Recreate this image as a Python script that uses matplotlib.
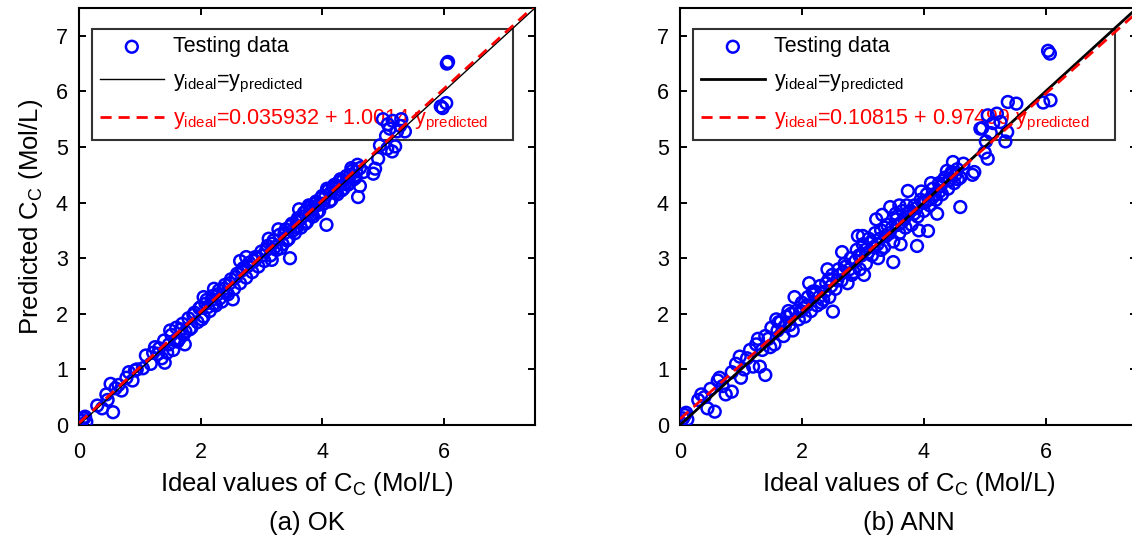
import numpy as np
import matplotlib
matplotlib.use('Agg')
import matplotlib.pyplot as plt

plt.rcParams['font.family'] = ['Liberation Sans', 'DejaVu Sans']
plt.rcParams['mathtext.fontset'] = 'custom'
plt.rcParams['mathtext.rm'] = 'Liberation Sans'
plt.rcParams['mathtext.it'] = 'Liberation Sans:italic'
plt.rcParams['mathtext.default'] = 'regular'

# ---- data ----
ok_ideal = [0.05, 0.08, 0.12, 0.10, 0.30, 0.38, 0.45, 0.52, 0.56, 0.47,
            0.65, 0.70, 0.78, 0.82, 0.88, 0.95, 1.05, 1.10, 1.18, 1.25,
            1.30, 1.36, 1.41, 1.40, 1.48, 1.52, 1.55, 1.60, 1.65, 1.70,
            1.74, 1.75, 1.80, 1.85, 1.90, 1.95, 2.00, 2.05, 2.10, 2.15,
            2.20, 2.25, 2.30, 2.35, 2.40, 2.45, 2.50, 2.53, 2.55, 2.60,
            2.65, 2.70, 2.75, 2.80, 2.85, 2.90, 2.95, 3.00, 3.05, 3.10,
            3.15, 3.17, 3.20, 3.25, 3.30, 3.35, 3.40, 3.45, 3.47, 3.50,
            3.55, 3.60, 3.65, 3.70, 3.75, 3.80, 3.85, 3.90, 3.95, 4.00,
            4.07, 4.10, 4.15, 4.20, 4.25, 4.30, 4.35, 4.40, 4.45, 4.50,
            4.55, 4.59, 4.62, 4.62, 4.68, 4.84, 4.87, 4.92,
            1.50, 1.62, 1.72, 1.82, 1.98, 2.02, 2.12, 2.22, 2.32, 2.42,
            2.05, 2.22, 1.45, 2.65, 2.75, 2.88, 3.12, 3.32, 3.42, 3.28,
            3.62, 3.58, 3.68, 3.72, 3.78, 3.82, 3.88, 3.92, 3.98, 4.02,
            4.08, 4.12, 4.22, 4.28, 4.32, 4.42, 4.52, 4.48, 4.58,
            2.58, 2.68, 2.78, 2.92, 3.02, 3.08, 3.18, 3.22, 3.38, 3.48,
            3.52, 3.58, 3.64, 3.74, 3.84, 3.94, 4.04, 4.14, 4.18, 4.24,
            4.34, 4.38, 4.46, 4.56, 1.22, 1.32, 1.58, 1.68, 1.88, 2.08,
            2.18, 2.28, 2.38, 2.48, 0.92, 0.60,
            5.00, 5.08, 5.16, 5.28, 5.36, 5.23, 5.11, 4.95, 5.07, 5.20, 5.15, 5.30, 5.05,
            6.07, 6.05, 6.04, 5.95, 5.98]
ok_pred = [0.08, 0.12, 0.06, 0.15, 0.35, 0.30, 0.55, 0.74, 0.23, 0.45,
           0.72, 0.62, 0.85, 0.95, 0.80, 1.00, 1.02, 1.25, 1.10, 1.40,
           1.28, 1.20, 1.12, 1.52, 1.45, 1.62, 1.35, 1.75, 1.55, 1.82,
           1.45, 1.68, 1.92, 1.75, 2.02, 1.85, 2.12, 1.95, 2.25, 2.05,
           2.32, 2.15, 2.42, 2.22, 2.52, 2.35, 2.62, 2.26, 2.45, 2.72,
           2.55, 2.82, 2.65, 2.92, 2.75, 3.02, 2.85, 3.12, 2.95, 3.22,
           3.05, 2.97, 3.32, 3.15, 3.42, 3.25, 3.52, 3.35, 3.00, 3.62,
           3.45, 3.72, 3.55, 3.82, 3.65, 3.92, 3.75, 4.02, 3.85, 4.12,
           3.60, 4.22, 4.05, 4.32, 4.15, 4.42, 4.25, 4.48, 4.35, 4.58,
           4.45, 4.10, 4.30, 4.62, 4.55, 4.52, 4.61, 4.79,
           1.70, 1.50, 1.62, 1.72, 2.10, 1.90, 2.12, 2.18, 2.28, 2.38,
           2.30, 2.45, 1.30, 2.95, 3.02, 2.95, 3.35, 3.18, 3.32, 3.52,
           3.88, 3.55, 3.75, 3.62, 3.95, 3.78, 3.98, 3.82, 4.08, 3.98,
           4.25, 4.02, 4.18, 4.38, 4.22, 4.32, 4.42, 4.62, 4.68,
           2.66, 2.78, 2.86, 3.00, 3.05, 3.15, 3.26, 3.20, 3.45, 3.58,
           3.50, 3.66, 3.70, 3.86, 3.88, 3.96, 4.08, 4.18, 4.28, 4.30,
           4.40, 4.34, 4.50, 4.56, 1.30, 1.38, 1.52, 1.72, 1.98, 2.18,
           2.25, 2.35, 2.45, 2.55, 0.98, 0.66,
           5.50, 5.41, 5.47, 5.38, 5.28, 5.28, 5.33, 5.03, 4.97, 5.01, 4.92, 5.50, 5.20,
           6.53, 6.50, 5.79, 5.73, 5.70]

ann_ideal = [0.05, 0.08, 0.12, 0.10, 0.30, 0.35, 0.45, 0.50, 0.57, 0.62,
             0.70, 0.75, 0.85, 0.85, 0.92, 0.98, 1.00, 1.05, 1.10, 1.20,
             1.25, 1.31, 1.40, 1.35, 1.40, 1.45, 1.50, 1.55, 1.60, 1.65,
             1.70, 1.75, 1.80, 1.85, 1.90, 1.95, 2.00, 2.05, 2.10, 2.15,
             2.20, 2.25, 2.30, 2.35, 2.40, 2.45, 2.51, 2.50, 2.55, 2.60,
             2.66, 2.65, 2.70, 2.75, 2.80, 2.85, 2.90, 2.95, 3.00, 3.05,
             3.10, 3.15, 3.20, 3.25, 3.30, 3.35, 3.40, 3.45, 3.50, 3.50,
             3.55, 3.60, 3.65, 3.70, 3.74, 3.75, 3.80, 3.85, 3.89, 3.90,
             3.95, 4.00, 4.05, 4.07, 4.10, 4.15, 4.20, 4.25, 4.30, 4.35,
             4.38, 4.40, 4.45, 4.48, 4.50, 4.55, 4.60, 4.60, 4.65, 4.83,
             4.80, 5.05,
             1.58, 1.72, 1.82, 1.98, 2.08, 2.18, 2.28, 2.38, 2.48, 2.58,
             2.68, 2.78, 2.88, 2.98, 3.08, 3.18, 3.28, 3.38, 3.48, 3.58,
             3.68, 3.78, 3.88, 3.98, 4.08, 4.18, 4.28, 4.42, 4.52, 3.22,
             3.32, 2.92, 3.02, 3.62, 4.22, 3.92, 2.42, 2.12, 1.88,
             2.02, 2.22, 2.32, 2.44, 2.62, 2.72, 2.82, 2.94, 3.04, 3.14,
             3.24, 3.36, 3.44, 3.54, 3.64, 3.72, 3.84, 3.96, 4.02, 4.12,
             4.26, 4.32, 4.46, 4.56, 1.15, 1.28, 1.48, 1.62, 1.78, 0.40,
             0.65, 3.00, 3.30, 3.60, 4.15,
             4.93, 5.02, 5.34, 5.05, 5.38, 5.52, 5.14, 4.96, 5.26, 5.37, 5.10, 5.20, 5.00,
             6.04, 6.07, 5.96, 6.08]
ann_pred = [0.12, 0.18, 0.10, 0.22, 0.45, 0.55, 0.30, 0.65, 0.24, 0.80,
            0.70, 0.55, 0.60, 0.95, 1.10, 1.23, 0.85, 1.00, 1.20, 1.05,
            1.45, 1.05, 0.90, 1.35, 1.60, 1.55, 1.75, 1.45, 1.70, 1.85,
            1.60, 1.95, 1.80, 1.70, 2.05, 1.90, 2.20, 1.95, 2.30, 2.05,
            2.35, 2.15, 2.50, 2.25, 2.55, 2.30, 2.04, 2.70, 2.45, 2.80,
            3.11, 2.60, 2.90, 2.55, 3.00, 2.75, 3.15, 2.80, 3.25, 2.90,
            3.35, 3.05, 3.45, 3.00, 3.50, 3.20, 3.60, 3.92, 2.93, 3.30,
            3.70, 3.45, 3.85, 3.55, 4.21, 3.80, 3.60, 3.95, 3.22, 3.75,
            4.05, 3.85, 4.15, 3.49, 3.95, 4.25, 4.05, 4.35, 4.15, 4.45,
            4.57, 4.25, 4.50, 4.73, 4.35, 4.60, 3.92, 4.45, 4.70, 4.55,
            4.50, 4.79,
            1.90, 1.78, 2.00, 2.05, 2.15, 2.40, 2.30, 2.40, 2.50, 2.60,
            2.75, 2.80, 2.95, 3.05, 3.10, 3.20, 3.35, 3.40, 3.55, 3.60,
            3.70, 3.85, 3.90, 4.00, 4.05, 4.15, 4.30, 4.40, 4.50, 3.70,
            3.78, 3.40, 2.70, 3.25, 3.80, 3.50, 2.80, 2.55, 2.30,
            2.10, 2.40, 2.20, 2.62, 2.70, 2.85, 2.70, 3.05, 3.15, 3.30,
            3.25, 3.55, 3.45, 3.80, 3.65, 3.95, 3.80, 4.20, 4.00, 4.35,
            4.20, 4.40, 4.55, 4.42, 1.35, 1.55, 1.40, 1.85, 2.05, 0.50,
            0.85, 3.40, 3.15, 3.95, 4.10,
            5.33, 5.10, 5.10, 5.57, 5.81, 5.78, 5.43, 5.34, 5.45, 5.27, 5.25, 5.60, 4.90,
            6.73, 6.68, 5.80, 5.84]

# fitted lines: y = a + b*x
ok_fit = (0.035932, 1.0014)
ann_fit = (0.10815, 0.97499)
ok_fit_label = 'y$_{ideal}$=0.035932 + 1.0014 y$_{predicted}$'
ann_fit_label = 'y$_{ideal}$=0.10815 + 0.97499 y$_{predicted}$'
captions = ['(a) OK', '(b) ANN']

W, H = 1132, 539
fig = plt.figure(figsize=(W / 100, H / 100), dpi=100)
ax1 = fig.add_axes([79 / W, 114 / H, 456 / W, 417 / H])
ax2 = fig.add_axes([680 / W, 114 / H, 457 / W, 417 / H])

panels = [(ax1, ok_ideal, ok_pred, ok_fit, ok_fit_label, 1.0),
          (ax2, ann_ideal, ann_pred, ann_fit, ann_fit_label, 2.0)]

line_x = np.array([0, 7.5])
for i, (ax, xs, ys, fit, fit_label, black_lw) in enumerate(panels):
    ax.scatter(xs, ys, s=72, facecolors='none', edgecolors='blue',
               linewidths=1.8, zorder=3, label='Testing data')
    ax.plot(line_x, line_x, color='black', lw=black_lw, zorder=4,
            label='y$_{ideal}$=y$_{predicted}$')
    ax.plot(line_x, fit[0] + fit[1] * line_x, color='red', lw=2.0,
            ls=(0, (4, 2.5)), zorder=5, label=fit_label)
    ax.set_xlim(0, 7.5)
    ax.set_ylim(0, 7.5)
    ax.set_xticks([0, 2, 4, 6])
    ax.set_yticks(range(8))
    ax.tick_params(direction='in', top=True, right=True, length=5, width=1.4,
                   labelsize=15.5)
    ax.tick_params(axis='x', pad=12)
    ax.tick_params(axis='y', pad=8)
    for sp in ax.spines.values():
        sp.set_linewidth(1.5)
    ax.set_xlabel('Ideal values of C$_C$ (Mol/L)', fontsize=18.5, labelpad=5)
    ax.text(0.5, -0.236, captions[i], transform=ax.transAxes, ha='center',
            va='center', fontsize=18.5)

    leg = ax.legend(loc='upper left', bbox_to_anchor=(0.0285, 0.0, 0.923, 0.95),
                    mode='expand', fontsize=15.5, frameon=True, fancybox=False,
                    borderaxespad=0, handlelength=3.0, handletextpad=0.4,
                    labelspacing=0.6, borderpad=0.35)
    leg.get_frame().set_edgecolor('black')
    leg.get_frame().set_linewidth(1.5)
    leg.get_frame().set_facecolor('none')
    leg.set_zorder(2)
    leg.get_texts()[2].set_color('red')

ax1.set_ylabel('Predicted C$_C$ (Mol/L)', fontsize=18.5, labelpad=8)

fig.savefig('out.png', dpi=100)
